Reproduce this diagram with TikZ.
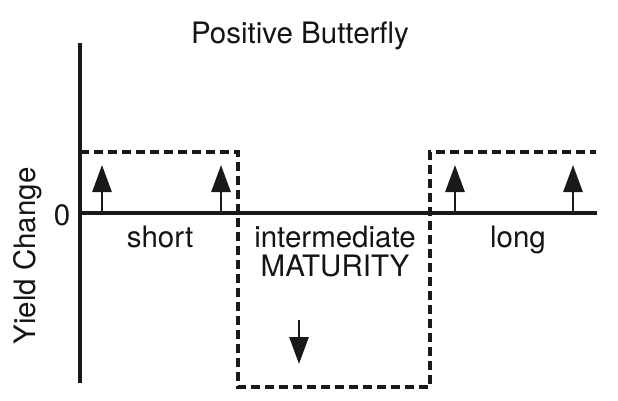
\documentclass[tikz,border=0pt]{standalone}
\usepackage{fontspec}
\setmainfont{TeX Gyre Heros}
\usetikzlibrary{arrows.meta}
\begin{document}
\begin{tikzpicture}[x=1pt,y=-1pt,
  lbl/.style={font=\fontsize{29.5}{32}\selectfont, inner sep=0pt, anchor=base, text=black!92},
  axisline/.style={line width=3.4pt, draw=black!90},
  dashbox/.style={line width=3.3pt, draw=black!90, dash pattern=on 9pt off 5pt},
  updown/.style={line width=2.8pt, draw=black!90, -{Triangle[length=27pt,width=19pt]}}]
\useasboundingbox (0,0) rectangle (618,400);
% axes
\coordinate (ytop) at (80,43);
\coordinate (ybot) at (80,383);
\coordinate (z0) at (80,213);
\coordinate (z1) at (597,213);
\draw[axisline] (ytop) -- (ybot);
\draw[axisline] (z0) -- (z1);
% dashed boxes
\coordinate (s1) at (80,152);
\coordinate (s2) at (238,152);
\coordinate (s3) at (238,387);
\coordinate (m2) at (430,387);
\coordinate (m1) at (430,152);
\coordinate (l2) at (596,152);
\draw[dashbox] (s1) -- (s2) -- (s3) -- (m2) -- (m1) -- (l2);
% arrows
\coordinate (a1s) at (102,211); \coordinate (a1e) at (102,165);
\coordinate (a2s) at (221,211); \coordinate (a2e) at (221,165);
\coordinate (a3s) at (455,211); \coordinate (a3e) at (455,165);
\coordinate (a4s) at (573,211); \coordinate (a4e) at (573,165);
\coordinate (a5s) at (299,320); \coordinate (a5e) at (299,364);
\draw[updown] (a1s) -- (a1e);
\draw[updown] (a2s) -- (a2e);
\draw[updown] (a3s) -- (a3e);
\draw[updown] (a4s) -- (a4e);
\draw[updown] (a5s) -- (a5e);
% labels
\node[lbl] (title) at (300,43) {Positive Butterfly};
\node[lbl] (zero) at (62,225) {0};
\node[lbl, rotate=90] (ylab) at (35,256) {Yield Change};
\node[lbl] (short) at (160,247) {short};
\node[lbl] (inter) at (335,247) {intermediate};
\node[lbl] (mat) at (335,276) {MATURITY};
\node[lbl] (long) at (518,247) {long};
\end{tikzpicture}
\end{document}
